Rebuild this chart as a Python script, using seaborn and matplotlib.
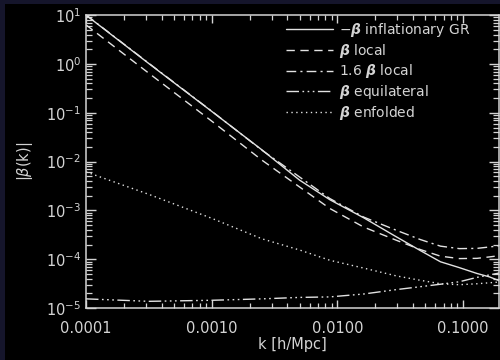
import numpy as np
import pandas as pd
import matplotlib
matplotlib.use("Agg")
import matplotlib.pyplot as plt
import matplotlib.ticker as mticker
from matplotlib.patches import Rectangle
import seaborn as sns

# ---- data ----
k = [0.0001, 0.000316, 0.001, 0.00251, 0.00501, 0.00871, 0.0162, 0.0295,
     0.0457, 0.0661, 0.0933, 0.129, 0.162, 0.195]
beta_gr = [10.0, 1.02, 0.107, 0.0174, 4.17e-3, 1.66e-3, 7.08e-4, 2.88e-4,
           1.51e-4, 8.9e-5, 6.76e-5, 5.13e-5, 4.37e-5, 3.63e-5]
beta_local = [6.31, 0.646, 0.0676, 0.01072, 3.02e-3, 1.096e-3, 4.57e-4, 2.45e-4,
              1.585e-4, 1.16e-4, 1.035e-4, 1.047e-4, 1.12e-4, 1.19e-4]
beta_local16 = [10.1, 1.034, 0.108, 0.01715, 4.83e-3, 1.754e-3, 7.31e-4, 3.92e-4,
                2.54e-4, 1.86e-4, 1.656e-4, 1.675e-4, 1.79e-4, 1.90e-4]
beta_equil = [1.55e-5, 1.38e-5, 1.45e-5, 1.55e-5, 1.66e-5, 1.70e-5, 1.95e-5, 2.40e-5,
              2.75e-5, 3.09e-5, 3.47e-5, 4.27e-5, 4.79e-5, 5.25e-5]
beta_enf = [6.17e-3, 2.14e-3, 6.92e-4, 2.63e-4, 1.55e-4, 9.55e-5, 6.61e-5, 4.57e-5,
            3.72e-5, 3.16e-5, 3.02e-5, 3.16e-5, 3.31e-5, 3.43e-5]

labels = [r"$-\boldsymbol{\beta}$ inflationary GR",
          r"$\boldsymbol{\beta}$ local",
          r"1.6 $\boldsymbol{\beta}$ local",
          r"$\boldsymbol{\beta}$ equilateral",
          r"$\boldsymbol{\beta}$ enfolded"]
xtick_vals = [0.0001, 0.001, 0.01, 0.1]
xtick_labels = ["0.0001", "0.0010", "0.0100", "0.1000"]
ytick_vals = [1e-5, 1e-4, 1e-3, 1e-2, 1e-1, 1e0, 1e1]

series = [beta_gr, beta_local, beta_local16, beta_equil, beta_enf]
styles = ["-", (0, (6, 4)), (0, (7, 3, 1.5, 3)),
          (0, (9, 2.5, 1.2, 2.5, 1.2, 2.5, 1.2, 2.5)), (0, (1, 2.5))]

sns.set_theme(style="dark")
plt.rcParams["font.family"] = ["DejaVu Sans"]
plt.rcParams["mathtext.fontset"] = "dejavusans"

fg = "#d4d4d4"
fig = plt.figure(figsize=(5.0, 3.6), dpi=100, facecolor="black")
ax = fig.add_axes([0.172, 0.144, 0.826, 0.814])
ax.set_facecolor("black")

for vals, lab, ls in zip(series, labels, styles):
    df = pd.DataFrame({"k": k, "v": vals})
    sns.lineplot(data=df, x="k", y="v", ax=ax, color="#e2e2e2", linewidth=1.0,
                 linestyle=ls, label=lab, legend=False)

ax.set_xscale("log")
ax.set_yscale("log")
ax.set_xlim(1e-4, 0.193)
ax.set_ylim(1e-5, 1e1)
ax.grid(False)

ax.xaxis.set_major_locator(mticker.FixedLocator(xtick_vals))
ax.xaxis.set_major_formatter(mticker.FixedFormatter(xtick_labels))
ax.xaxis.set_minor_locator(mticker.FixedLocator(
    [m * 10.0 ** e for e in range(-4, 0) for m in range(2, 10) if m * 10.0 ** e <= 0.193]))
ax.xaxis.set_minor_formatter(mticker.NullFormatter())
ax.yaxis.set_major_locator(mticker.FixedLocator(ytick_vals))
ax.yaxis.set_major_formatter(mticker.LogFormatterSciNotation())
ax.yaxis.set_minor_locator(mticker.FixedLocator(
    [m * 10.0 ** e for e in range(-5, 1) for m in range(2, 10)]))
ax.yaxis.set_minor_formatter(mticker.NullFormatter())

ax.tick_params(axis="both", which="both", direction="in", colors=fg,
               top=True, right=True, bottom=True, left=True, labelsize=10.5)
ax.tick_params(axis="y", which="major", length=7, width=1)
ax.tick_params(axis="y", which="minor", length=4, width=0.9)
ax.tick_params(axis="x", which="major", length=6, width=1, pad=9)
ax.tick_params(axis="x", which="minor", length=3.5, width=0.9)
for t in ax.get_xticklabels() + ax.get_yticklabels():
    t.set_color(fg)
for s in ax.spines.values():
    s.set_color(fg)
    s.set_linewidth(1.1)

ax.set_xlabel("k [h/Mpc]", color=fg, fontsize=10.5, labelpad=1)
ax.set_ylabel(r"|$\beta$(k)|", color=fg, fontsize=10.5, labelpad=8)

handles, labs = ax.get_legend_handles_labels()
leg = ax.legend(handles, labs, loc="upper left", bbox_to_anchor=(0.572, 0.942),
                bbox_transform=fig.transFigure, frameon=False, fontsize=10,
                handlelength=3.4, handletextpad=0.4, labelspacing=0.2,
                borderpad=0, borderaxespad=0)
for t in leg.get_texts():
    t.set_color(fg)

# navy slide border strips
fig.patches.append(Rectangle((0, 0), 5 / 500, 1, transform=fig.transFigure,
                             facecolor="#15152b", edgecolor="none", zorder=-1))
fig.patches.append(Rectangle((0, 1 - 4 / 360), 1, 4 / 360, transform=fig.transFigure,
                             facecolor="#15152b", edgecolor="none", zorder=-1))

fig.savefig("out.png", dpi=100, facecolor="black")
